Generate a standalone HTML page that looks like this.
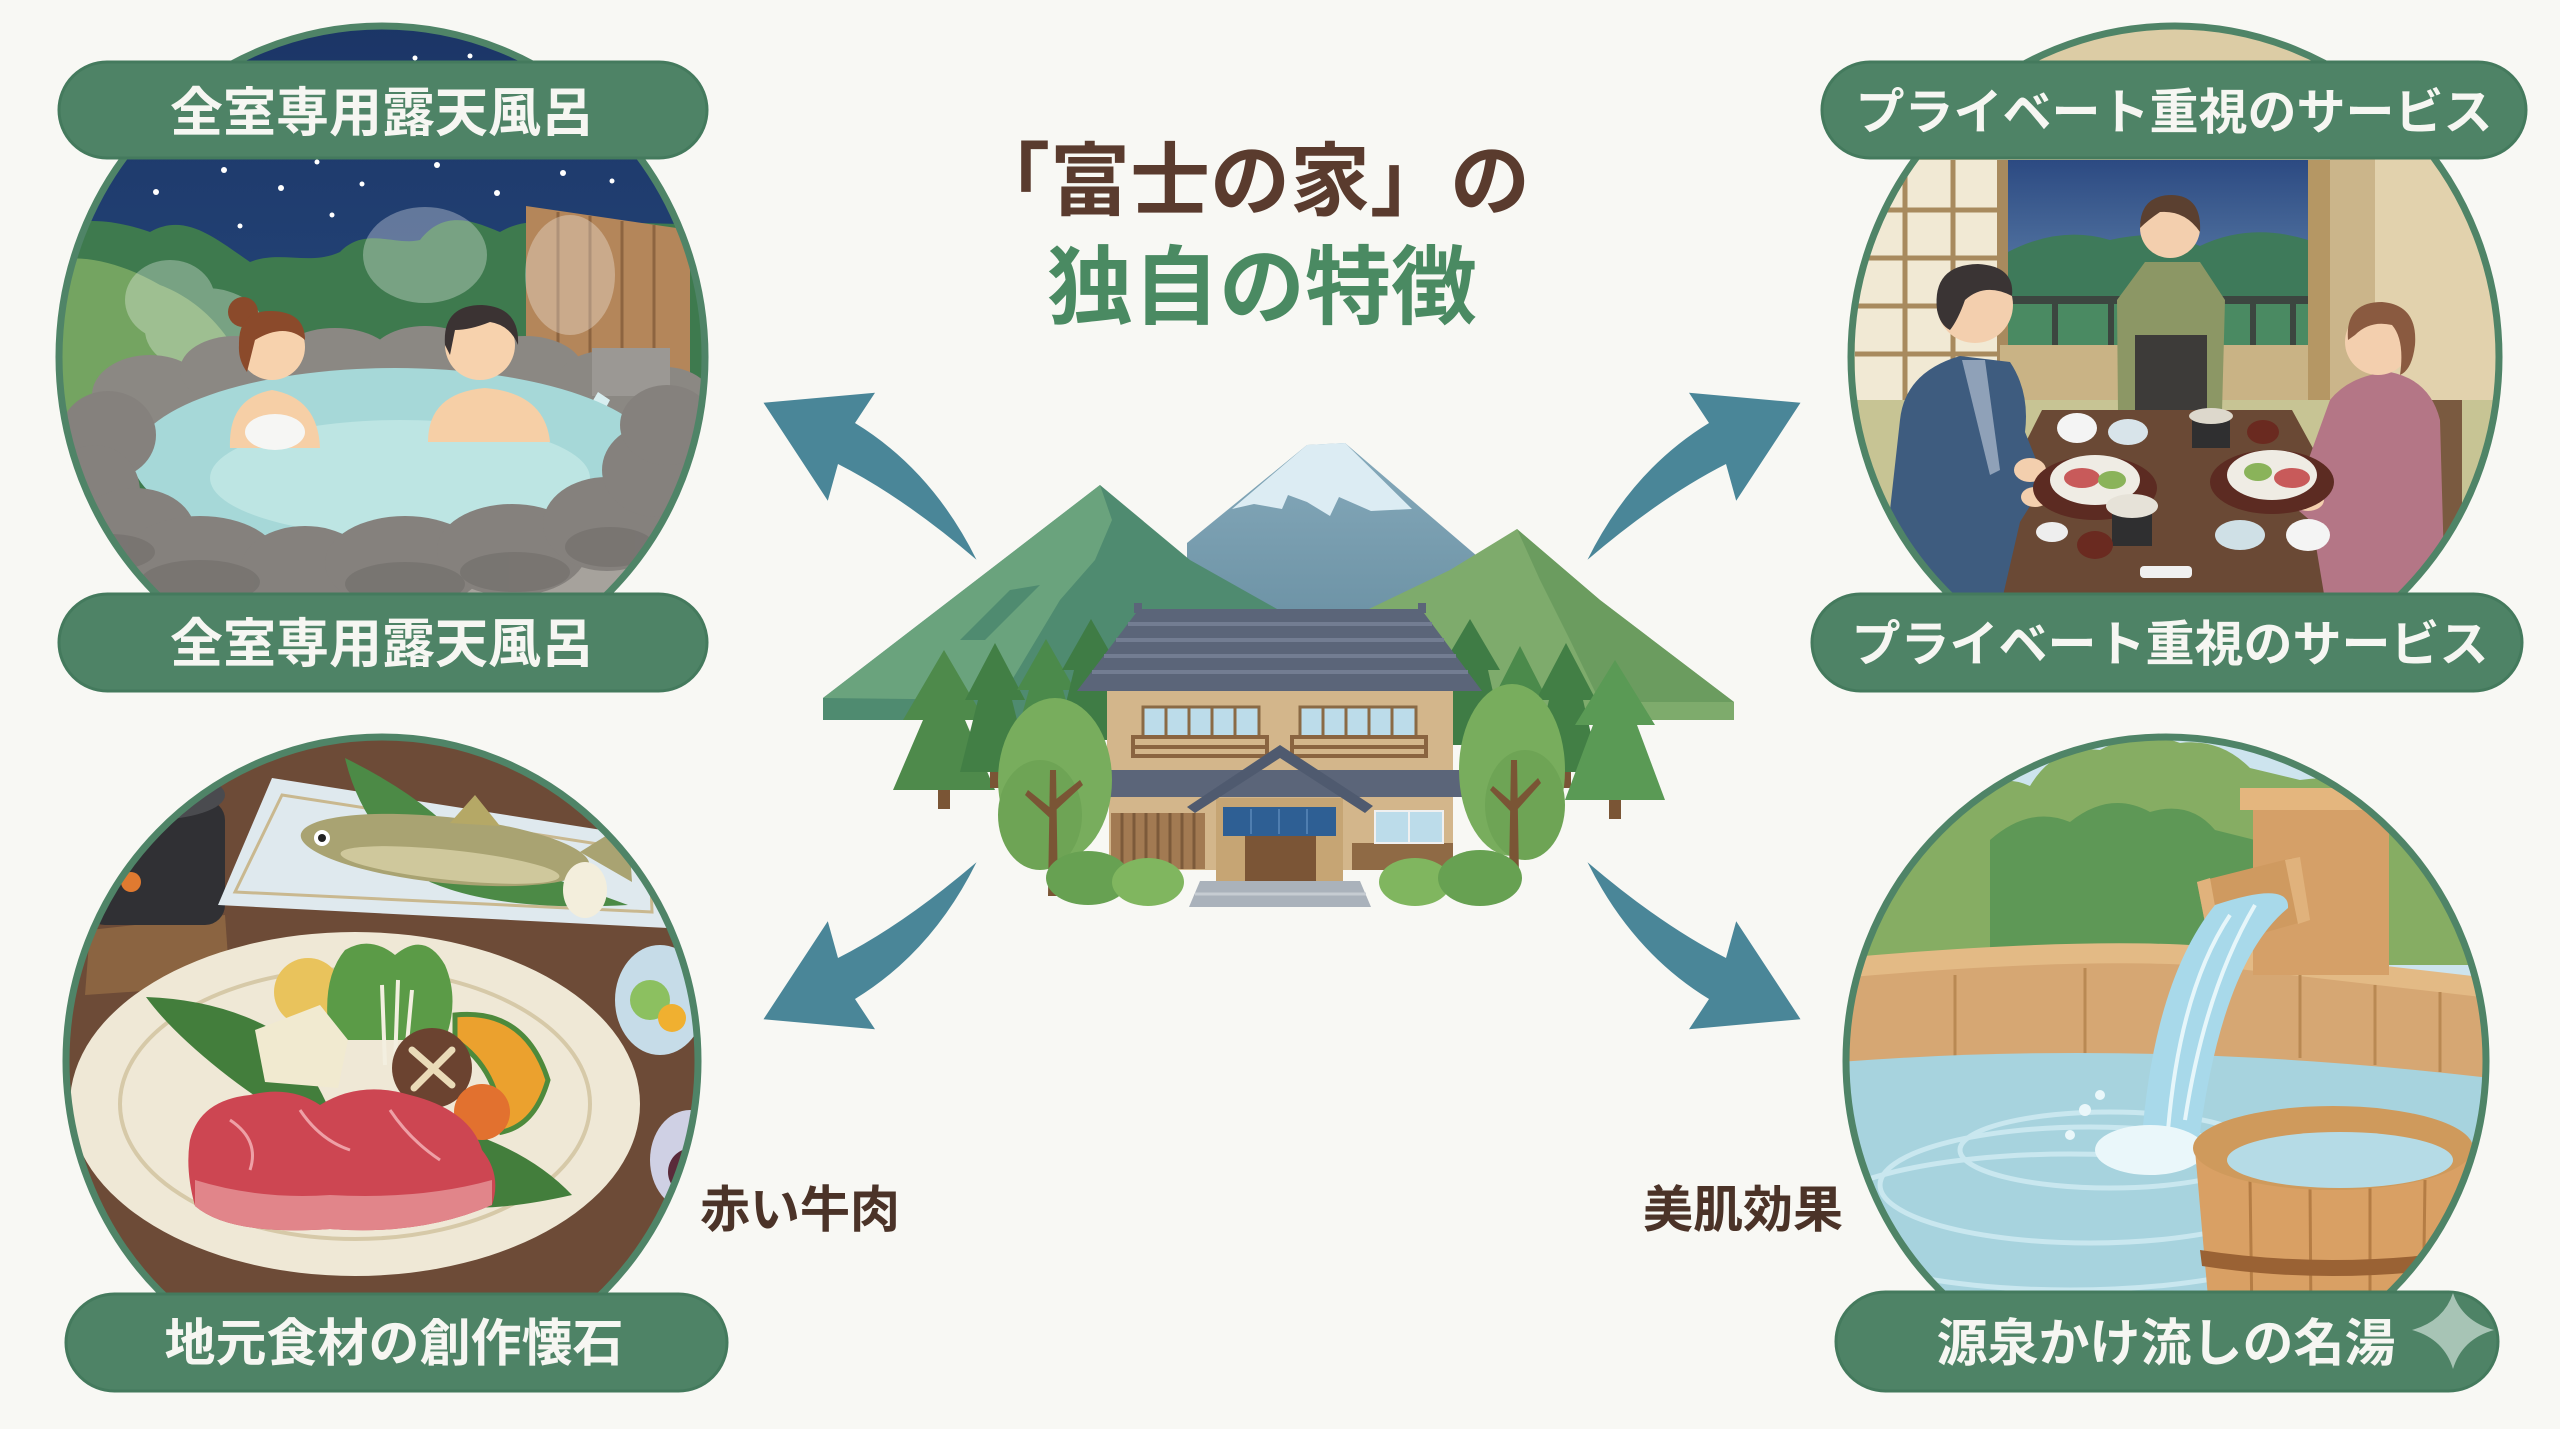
<!DOCTYPE html>
<html lang="ja">
<head>
<meta charset="utf-8">
<style>
html,body{margin:0;padding:0;background:#f8f8f4;}
body{width:2560px;height:1429px;overflow:hidden;}
svg{display:block;}
</style>
</head>
<body>
<svg width="2560" height="1429" viewBox="0 0 2560 1429" xmlns="http://www.w3.org/2000/svg" font-family="'Liberation Sans','Noto Sans CJK JP',sans-serif">
<defs>
  <clipPath id="cTL"><ellipse cx="382" cy="357" rx="323" ry="331"/></clipPath>
  <clipPath id="cTR"><ellipse cx="2175" cy="357" rx="324" ry="331"/></clipPath>
  <clipPath id="cBL"><ellipse cx="382" cy="1061" rx="316" ry="324"/></clipPath>
  <clipPath id="cBR"><ellipse cx="2166" cy="1061" rx="320" ry="324"/></clipPath>
  <linearGradient id="skyTL" x1="0" y1="0" x2="0" y2="1">
    <stop offset="0" stop-color="#1b3566"/><stop offset="1" stop-color="#2d548a"/>
  </linearGradient>
  <linearGradient id="skyTR" x1="0" y1="0" x2="0" y2="1">
    <stop offset="0" stop-color="#2c4a82"/><stop offset="1" stop-color="#6f93b8"/>
  </linearGradient>
  <linearGradient id="fuji" x1="0" y1="0" x2="0" y2="1">
    <stop offset="0" stop-color="#86aabb"/><stop offset="1" stop-color="#6a90a3"/>
  </linearGradient>
</defs>

<rect width="2560" height="1429" fill="#f8f8f4"/>

<!-- ================= TITLE ================= -->
<text x="1250" y="209" font-size="80" font-weight="700" fill="#5a3b2e" text-anchor="middle">「富士の家」の</text>
<text x="1262" y="317" font-size="86" font-weight="700" fill="#4a8a62" text-anchor="middle">独自の特徴</text>

<!-- ================= ARROWS ================= -->
<g fill="#4a8698">
  <path d="M763.5 402.8 L875 392.7 L855 423 Q932 470 976.5 559.7 Q903 497 838 464 L827.8 500.8 Z"/>
  <path d="M763.5 402.8 L875 392.7 L855 423 Q932 470 976.5 559.7 Q903 497 838 464 L827.8 500.8 Z" transform="translate(2564,0) scale(-1,1)"/>
  <path d="M763.5 402.8 L875 392.7 L855 423 Q932 470 976.5 559.7 Q903 497 838 464 L827.8 500.8 Z" transform="translate(0,1422) scale(1,-1)"/>
  <path d="M763.5 402.8 L875 392.7 L855 423 Q932 470 976.5 559.7 Q903 497 838 464 L827.8 500.8 Z" transform="translate(2564,1422) scale(-1,-1)"/>
</g>

<!-- ================= CENTER ILLUSTRATION ================= -->
<g>
  <polygon points="1187,543 1307,445 1345,443 1477,556 1477,640 1187,640" fill="url(#fuji)"/>
  <polygon points="1232,509 1307,445 1345,443 1412,509 1371,511 1339,497 1330,516 1307,502 1288,495 1282,509 1254,504" fill="#dcecf3"/>
  <polygon points="823,698 1100,485 1190,560 1277,609 1330,650 1330,720 823,720" fill="#4f8b70"/>
  <polygon points="823,698 1100,485 1112,520 1095,560 1060,600 1030,650 1000,700" fill="#6aa37d"/>
  <polygon points="960,640 1010,590 1040,585 985,640" fill="#4f8b70"/>
  <polygon points="1369,609 1450,570 1517,529 1600,600 1734,702 1734,720 1369,720" fill="#7eab6c"/>
  <polygon points="1517,529 1600,600 1734,702 1600,702 1570,640 1540,580" fill="#6b9c5f"/>
  <g fill="#4e8a4b">
    <rect x="938" y="785" width="12" height="24" fill="#7a5535"/>
    <polygon points="944,650 985,720 965,720 995,790 893,790 923,720 903,720"/>
    <rect x="990" y="770" width="10" height="18" fill="#7a5535"/>
    <polygon points="995,643 1025,700 1012,700 1030,772 960,772 978,700 965,700" fill="#427f45"/>
    <polygon points="1046,639 1075,690 1063,690 1080,750 1012,750 1029,690 1017,690" fill="#4b8a4b"/>
    <polygon points="1091,619 1120,670 1108,670 1125,740 1057,740 1074,670 1062,670" fill="#3f7c45"/>
  </g>
  <g>
    <polygon points="1470,619 1500,670 1488,670 1505,745 1435,745 1452,670 1440,670" fill="#3f7c45"/>
    <polygon points="1520,646 1545,695 1535,695 1550,765 1490,765 1505,695 1495,695" fill="#4b8a4b"/>
    <rect x="1561" y="770" width="10" height="18" fill="#7a5535"/>
    <polygon points="1566,643 1596,700 1583,700 1600,772 1532,772 1549,700 1536,700" fill="#427f45"/>
    <rect x="1609" y="795" width="12" height="24" fill="#7a5535"/>
    <polygon points="1615,660 1655,725 1637,725 1665,800 1565,800 1593,725 1575,725" fill="#5a9a55"/>
  </g>
  <polygon points="1139,609 1421,609 1482,691 1077,691" fill="#5b6579"/>
  <g stroke="#737d92" stroke-width="4">
    <line x1="1128" y1="624" x2="1432" y2="624"/>
    <line x1="1116" y1="640" x2="1444" y2="640"/>
    <line x1="1104" y1="656" x2="1456" y2="656"/>
    <line x1="1092" y1="672" x2="1468" y2="672"/>
  </g>
  <rect x="1134" y="603" width="8" height="10" fill="#5b6579"/>
  <rect x="1418" y="603" width="8" height="10" fill="#5b6579"/>
  <rect x="1107" y="691" width="346" height="81" fill="#d3b68b"/>
  <g fill="#bcdcea" stroke="#8a6a45" stroke-width="3">
    <rect x="1143" y="707" width="116" height="30"/>
    <rect x="1300" y="707" width="116" height="30"/>
  </g>
  <g stroke="#8a6a45" stroke-width="3">
    <line x1="1166" y1="707" x2="1166" y2="737"/><line x1="1189" y1="707" x2="1189" y2="737"/>
    <line x1="1212" y1="707" x2="1212" y2="737"/><line x1="1235" y1="707" x2="1235" y2="737"/>
    <line x1="1323" y1="707" x2="1323" y2="737"/><line x1="1346" y1="707" x2="1346" y2="737"/>
    <line x1="1369" y1="707" x2="1369" y2="737"/><line x1="1392" y1="707" x2="1392" y2="737"/>
  </g>
  <g fill="none" stroke="#8a6440" stroke-width="4">
    <rect x="1133" y="737" width="134" height="19"/>
    <rect x="1292" y="737" width="134" height="19"/>
    <line x1="1133" y1="747" x2="1267" y2="747"/>
    <line x1="1292" y1="747" x2="1426" y2="747"/>
  </g>
  <polygon points="1105,770 1460,770 1475,797 1100,797" fill="#5b6579"/>
  <rect x="1109" y="797" width="344" height="73" fill="#d3b68b"/>
  <rect x="1352" y="843" width="101" height="27" fill="#8f6a45"/>
  <rect x="1111" y="813" width="94" height="56" fill="#a27a52"/>
  <g stroke="#7c5a3a" stroke-width="3">
    <line x1="1122" y1="813" x2="1122" y2="869"/><line x1="1134" y1="813" x2="1134" y2="869"/>
    <line x1="1146" y1="813" x2="1146" y2="869"/><line x1="1158" y1="813" x2="1158" y2="869"/>
    <line x1="1170" y1="813" x2="1170" y2="869"/><line x1="1182" y1="813" x2="1182" y2="869"/>
    <line x1="1194" y1="813" x2="1194" y2="869"/>
  </g>
  <rect x="1216" y="798" width="127" height="84" fill="#c6a574"/>
  <rect x="1223" y="807" width="113" height="29" fill="#2e5f94"/>
  <g stroke="#4f7eb0" stroke-width="2">
    <line x1="1251" y1="809" x2="1251" y2="834"/><line x1="1279" y1="809" x2="1279" y2="834"/><line x1="1307" y1="809" x2="1307" y2="834"/>
  </g>
  <rect x="1245" y="836" width="71" height="46" fill="#7b5536"/>
  <rect x="1375" y="811" width="68" height="32" fill="#bcdcea" stroke="#f0f0f0" stroke-width="2"/>
  <line x1="1409" y1="811" x2="1409" y2="843" stroke="#f0f0f0" stroke-width="2"/>
  <polygon points="1280,745 1373,806 1365,813 1280,758 1195,813 1187,807" fill="#4f5a6f"/>
  <polygon points="1200,881 1360,881 1371,907 1189,907" fill="#aab2bb"/>
  <line x1="1195" y1="894" x2="1366" y2="894" stroke="#c6ccd2" stroke-width="3"/>
  <ellipse cx="1055" cy="780" rx="57" ry="82" fill="#78ad5d"/>
  <ellipse cx="1040" cy="815" rx="42" ry="55" fill="#6ea455"/>
  <path d="M1048 896 L1050 770 L1056 770 L1058 896 Z M1052 820 L1025 795 L1028 790 L1053 810 Z M1055 800 L1080 780 L1083 785 L1056 810 Z" fill="#7a5535"/>
  <ellipse cx="1512" cy="770" rx="53" ry="86" fill="#78ad5d"/>
  <ellipse cx="1525" cy="805" rx="40" ry="55" fill="#6ea455"/>
  <path d="M1509 876 L1511 760 L1517 760 L1519 876 Z M1514 815 L1490 790 L1493 786 L1515 805 Z M1516 800 L1538 778 L1541 783 L1517 810 Z" fill="#7a5535"/>
  <ellipse cx="1088" cy="878" rx="42" ry="27" fill="#67a152"/>
  <ellipse cx="1148" cy="882" rx="36" ry="24" fill="#80b65f"/>
  <ellipse cx="1415" cy="882" rx="36" ry="24" fill="#80b65f"/>
  <ellipse cx="1480" cy="878" rx="42" ry="28" fill="#67a152"/>
</g>

<!-- ================= TL : open-air bath ================= -->
<g clip-path="url(#cTL)">
  <rect x="50" y="20" width="670" height="690" fill="url(#skyTL)"/>
  <g fill="#ffffff">
    <circle cx="224" cy="170" r="3"/><circle cx="317" cy="162" r="2.5"/><circle cx="437" cy="165" r="3"/>
    <circle cx="563" cy="173" r="3"/><circle cx="612" cy="181" r="2.5"/><circle cx="156" cy="192" r="3"/>
    <circle cx="281" cy="188" r="3"/><circle cx="362" cy="184" r="2.5"/><circle cx="497" cy="193" r="3"/>
    <circle cx="240" cy="226" r="2.5"/><circle cx="332" cy="215" r="2.5"/><circle cx="415" cy="58" r="2.5"/><circle cx="470" cy="56" r="2.5"/>
  </g>
  <path d="M40 235 C80 212 120 222 150 232 C185 212 215 238 250 262 C280 250 310 266 340 252 C365 226 395 246 420 240 C445 208 475 222 500 232 C530 214 560 226 600 222 L720 225 L720 520 L40 520 Z" fill="#3e7a4e"/>
  <path d="M40 265 C75 250 120 262 160 285 C200 300 235 335 250 385 L250 470 L40 470 Z" fill="#7aa864" opacity="0.9"/>
  <polygon points="526,206 690,230 690,450 526,450" fill="#b4865a"/>
  <g stroke="#8d6440" stroke-width="3">
    <line x1="558" y1="212" x2="558" y2="450"/><line x1="590" y1="216" x2="590" y2="450"/>
    <line x1="622" y1="221" x2="622" y2="450"/><line x1="654" y1="225" x2="654" y2="450"/>
  </g>
  <g fill="#ffffff" opacity="0.3">
    <ellipse cx="425" cy="255" rx="62" ry="48"/><ellipse cx="570" cy="275" rx="45" ry="60"/>
    <ellipse cx="170" cy="300" rx="45" ry="40"/><ellipse cx="205" cy="330" rx="60" ry="42"/>
  </g>
  <g fill="#8b8883">
    <ellipse cx="150" cy="395" rx="58" ry="40"/><ellipse cx="235" cy="370" rx="55" ry="34"/>
    <ellipse cx="335" cy="362" rx="60" ry="34"/><ellipse cx="425" cy="358" rx="55" ry="32"/>
    <ellipse cx="525" cy="370" rx="58" ry="34"/><ellipse cx="605" cy="385" rx="50" ry="34"/>
    <ellipse cx="665" cy="405" rx="50" ry="38"/>
  </g>
  <rect x="592" y="348" width="78" height="48" fill="#9b9894"/>
  <path d="M598 392 Q 580 420 575 460 L592 460 Q 596 425 610 400 Z" fill="#d8eef0"/>
  <ellipse cx="395" cy="460" rx="262" ry="92" fill="#a6d8d8"/>
  <ellipse cx="400" cy="478" rx="190" ry="58" fill="#bde5e3"/>
  <circle cx="243" cy="312" r="15" fill="#8b4a2b"/>
  <path d="M230 448 Q228 398 272 390 Q318 398 320 448 Z" fill="#f6cfa6"/>
  <circle cx="272" cy="347" r="33" fill="#f7d2ad"/>
  <path d="M239 345 Q238 310 272 311 Q305 312 305 340 Q285 322 255 340 Q250 360 247 372 Q238 360 239 345 Z" fill="#8b4a2b"/>
  <ellipse cx="275" cy="432" rx="30" ry="18" fill="#f6f6f4"/>
  <path d="M428 442 Q428 393 485 388 Q545 393 550 442 Z" fill="#f6cfa6"/>
  <circle cx="480" cy="345" r="35" fill="#f7d2ad"/>
  <path d="M445 345 Q442 305 482 305 Q520 307 518 345 Q510 325 490 322 Q470 330 455 330 Q452 345 450 355 Z" fill="#3b3333"/>
  <rect x="40" y="548" width="690" height="160" fill="#a6a29c"/>
  <g fill="#85817d">
    <ellipse cx="108" cy="435" rx="48" ry="44"/><ellipse cx="95" cy="492" rx="45" ry="47"/>
    <ellipse cx="135" cy="532" rx="60" ry="44"/><ellipse cx="200" cy="562" rx="80" ry="46"/>
    <ellipse cx="305" cy="568" rx="64" ry="42"/><ellipse cx="405" cy="563" rx="80" ry="47"/>
    <ellipse cx="512" cy="550" rx="75" ry="46"/><ellipse cx="607" cy="524" rx="64" ry="47"/>
    <ellipse cx="657" cy="470" rx="55" ry="47"/><ellipse cx="667" cy="425" rx="47" ry="40"/>
  </g>
  <g fill="#6f6c69" opacity="0.55">
    <ellipse cx="200" cy="582" rx="60" ry="22"/><ellipse cx="405" cy="584" rx="60" ry="22"/>
    <ellipse cx="515" cy="572" rx="55" ry="20"/><ellipse cx="610" cy="547" rx="45" ry="20"/>
    <ellipse cx="110" cy="552" rx="45" ry="18"/>
  </g>
</g>
<ellipse cx="382" cy="357" rx="323" ry="331" fill="none" stroke="#4f8467" stroke-width="7"/>

<!-- ================= TR : private service ================= -->
<g clip-path="url(#cTR)">
  <rect x="1840" y="20" width="680" height="690" fill="#dccca5"/>
  <rect x="1855" y="160" width="150" height="250" fill="#f1e9d4"/>
  <g stroke="#a88a5e" stroke-width="5">
    <line x1="1905" y1="160" x2="1905" y2="410"/><line x1="1953" y1="160" x2="1953" y2="410"/>
    <line x1="1855" y1="210" x2="2005" y2="210"/><line x1="1855" y1="258" x2="2005" y2="258"/>
    <line x1="1855" y1="306" x2="2005" y2="306"/><line x1="1855" y1="354" x2="2005" y2="354"/>
  </g>
  <rect x="1997" y="160" width="12" height="250" fill="#a88a5e"/>
  <rect x="2008" y="160" width="300" height="190" fill="url(#skyTR)"/>
  <path d="M2008 252 Q2060 225 2110 240 Q2160 228 2200 246 Q2250 222 2308 240 L2308 350 L2008 350 Z" fill="#3e7a5a"/>
  <rect x="2008" y="300" width="300" height="50" fill="#4a8a62"/>
  <rect x="2008" y="296" width="300" height="8" fill="#3c4640"/>
  <g fill="#3c4640">
    <rect x="2052" y="296" width="6" height="54"/><rect x="2108" y="296" width="6" height="54"/>
    <rect x="2250" y="296" width="6" height="54"/><rect x="2290" y="296" width="6" height="54"/>
  </g>
  <rect x="2000" y="345" width="320" height="60" fill="#c9b385"/>
  <rect x="2308" y="160" width="22" height="250" fill="#b59764"/>
  <rect x="2330" y="150" width="45" height="260" fill="#cbb58a"/>
  <rect x="2375" y="20" width="140" height="400" fill="#e2d2ad"/>
  <rect x="1840" y="400" width="680" height="310" fill="#c7c494"/>
  <path d="M2145 262 L2200 262 L2225 300 L2222 412 L2118 412 L2117 300 Z" fill="#8c9765"/>
  <rect x="2135" y="335" width="72" height="77" fill="#3d3b39"/>
  <circle cx="2170" cy="228" r="30" fill="#f3cfae"/>
  <path d="M2140 228 Q2140 195 2172 195 Q2202 196 2200 232 Q2185 210 2160 212 Q2148 220 2140 228 Z" fill="#5b4030"/>
  <rect x="2430" y="400" width="32" height="160" fill="#7a5a40"/>
  <polygon points="2042,410 2292,410 2396,600 1946,600" fill="#6a4935"/>
  <path d="M1900 420 Q1905 372 1960 356 L2010 362 Q2030 392 2025 432 L2045 482 L2020 522 L2002 600 L1880 600 Z" fill="#3e5c7f"/>
  <path d="M1962 360 L1985 360 L2000 470 L1990 475 Z" fill="#8fa1b8"/>
  <circle cx="1975" cy="305" r="38" fill="#f3cfae"/>
  <path d="M1937 310 Q1932 265 1978 264 Q2015 266 2012 296 Q1985 282 1965 300 Q1958 320 1950 330 Q1940 325 1937 310 Z" fill="#3a3434"/>
  <ellipse cx="2030" cy="470" rx="16" ry="12" fill="#f3cfae"/>
  <ellipse cx="2035" cy="497" rx="14" ry="10" fill="#f3cfae"/>
  <path d="M2330 400 Q2350 375 2390 372 Q2430 380 2440 420 L2445 600 L2325 600 L2312 522 L2292 505 Z" fill="#b47686"/>
  <circle cx="2378" cy="342" r="33" fill="#f3cfae"/>
  <path d="M2348 340 Q2345 302 2382 302 Q2418 305 2415 345 Q2412 370 2400 375 Q2405 340 2392 325 Q2370 320 2355 335 Z" fill="#8a5a40"/>
  <ellipse cx="2308" cy="500" rx="16" ry="11" fill="#f3cfae"/>
  <ellipse cx="2095" cy="488" rx="62" ry="32" fill="#5c2b22"/>
  <ellipse cx="2272" cy="482" rx="62" ry="32" fill="#5c2b22"/>
  <ellipse cx="2095" cy="480" rx="45" ry="25" fill="#efece4"/>
  <ellipse cx="2272" cy="475" rx="45" ry="25" fill="#efece4"/>
  <ellipse cx="2082" cy="478" rx="18" ry="10" fill="#c85a5a"/>
  <ellipse cx="2112" cy="480" rx="14" ry="9" fill="#8ab35a"/>
  <ellipse cx="2292" cy="478" rx="18" ry="10" fill="#c85a5a"/>
  <ellipse cx="2258" cy="472" rx="14" ry="9" fill="#8ab35a"/>
  <ellipse cx="2077" cy="428" rx="20" ry="15" fill="#f4f4f4"/>
  <ellipse cx="2308" cy="535" rx="22" ry="16" fill="#f4f4f4"/>
  <ellipse cx="2128" cy="432" rx="20" ry="13" fill="#d8e4ea"/>
  <ellipse cx="2240" cy="535" rx="25" ry="15" fill="#cfe0e6"/>
  <rect x="2192" y="418" width="38" height="30" fill="#2f2f30"/>
  <ellipse cx="2211" cy="416" rx="22" ry="8" fill="#ddd8cc"/>
  <rect x="2112" y="510" width="40" height="36" fill="#2f2f30"/>
  <ellipse cx="2132" cy="506" rx="26" ry="12" fill="#e6e2d8"/>
  <ellipse cx="2095" cy="545" rx="18" ry="14" fill="#6a2a20"/>
  <ellipse cx="2263" cy="432" rx="16" ry="12" fill="#6a2a20"/>
  <rect x="2140" y="566" width="52" height="12" rx="4" fill="#f0f0f0"/>
  <ellipse cx="2052" cy="532" rx="16" ry="10" fill="#eeeeee"/>
</g>
<ellipse cx="2175" cy="357" rx="324" ry="331" fill="none" stroke="#4f8467" stroke-width="7"/>

<!-- ================= BL : kaiseki ================= -->
<g clip-path="url(#cBL)">
  <rect x="50" y="720" width="680" height="700" fill="#6d4b37"/>
  <polygon points="90,930 225,915 230,985 85,995" fill="#8b6441"/>
  <rect x="85" y="800" width="140" height="125" rx="20" fill="#303034"/>
  <ellipse cx="150" cy="795" rx="75" ry="25" fill="#4a4b4f"/>
  <circle cx="131" cy="882" r="10" fill="#e07a30"/>
  <polygon points="272,778 665,840 668,928 218,905" fill="#dfe9ee"/>
  <polygon points="282,795 650,852 652,912 235,892" fill="none" stroke="#c9b88f" stroke-width="3"/>
  <path d="M345 758 Q430 800 470 850 Q560 880 628 905 Q500 912 430 882 Q362 832 345 758 Z" fill="#4c8a46"/>
  <ellipse cx="445" cy="850" rx="145" ry="33" fill="#a9a372" transform="rotate(6 445 850)"/>
  <ellipse cx="450" cy="865" rx="110" ry="15" fill="#cfc89c" transform="rotate(6 450 865)"/>
  <polygon points="580,852 628,822 632,882" fill="#a9a372"/>
  <polygon points="450,823 475,795 500,826" fill="#b5a866"/>
  <circle cx="322" cy="838" r="8" fill="#ffffff"/><circle cx="322" cy="838" r="4" fill="#222"/>
  <ellipse cx="585" cy="890" rx="22" ry="28" fill="#f3eedc"/>
  <ellipse cx="355" cy="1104" rx="285" ry="172" fill="#efe8d6"/>
  <ellipse cx="355" cy="1104" rx="235" ry="135" fill="none" stroke="#d6c9a8" stroke-width="4"/>
  <path d="M146 997 Q230 1000 290 1040 Q330 1100 345 1150 Q270 1110 220 1070 Q170 1030 146 997 Z" fill="#437e3c"/>
  <path d="M420 1120 Q520 1140 572 1195 Q480 1216 430 1202 Z" fill="#437e3c"/>
  <circle cx="308" cy="992" r="34" fill="#e9c35c"/>
  <path d="M330 1040 Q320 980 345 950 Q370 935 395 955 Q425 930 445 965 Q460 1000 445 1040 Z" fill="#5b9b47"/>
  <g stroke="#f3efe0" stroke-width="4">
    <line x1="385" y1="1065" x2="382" y2="985"/><line x1="395" y1="1065" x2="398" y2="980"/><line x1="405" y1="1065" x2="412" y2="990"/>
  </g>
  <polygon points="255,1030 320,1005 348,1040 338,1088 265,1082" fill="#f1ead0"/>
  <path d="M455 1015 Q525 1008 548 1080 Q535 1125 502 1132 Q500 1070 455 1040 Z" fill="#eba12e" stroke="#4d8a3c" stroke-width="5"/>
  <circle cx="432" cy="1068" r="40" fill="#6b4330"/>
  <path d="M412 1050 L452 1085 M452 1050 L414 1088" stroke="#eadbb8" stroke-width="7" stroke-linecap="round"/>
  <circle cx="482" cy="1112" r="28" fill="#e2712f"/>
  <path d="M190 1140 Q200 1100 250 1095 Q290 1085 320 1105 Q360 1080 410 1095 Q470 1110 482 1150 Q502 1175 492 1205 Q420 1236 330 1229 Q230 1236 195 1206 Q185 1170 190 1140 Z" fill="#cd4652"/>
  <path d="M195 1180 Q260 1200 330 1195 Q420 1200 492 1180 L492 1205 Q420 1236 330 1229 Q230 1236 195 1206 Z" fill="#e1858a"/>
  <g stroke="#eea0a6" stroke-width="3" fill="none">
    <path d="M230 1120 Q260 1140 250 1170"/><path d="M300 1110 Q320 1140 350 1150"/><path d="M390 1110 Q410 1140 440 1160"/>
  </g>
  <ellipse cx="660" cy="1000" rx="45" ry="55" fill="#c6dce8"/>
  <circle cx="650" cy="1000" r="20" fill="#8cc060"/><circle cx="672" cy="1018" r="14" fill="#f0b030"/>
  <ellipse cx="690" cy="1160" rx="40" ry="50" fill="#cfd0e4"/>
  <ellipse cx="692" cy="1172" rx="24" ry="24" fill="#5a2a3a"/>
</g>
<ellipse cx="382" cy="1061" rx="316" ry="324" fill="none" stroke="#4f8467" stroke-width="7"/>

<!-- ================= BR : hot spring ================= -->
<g clip-path="url(#cBR)">
  <rect x="1830" y="720" width="680" height="700" fill="#cde4ee"/>
  <path d="M1840 965 L1840 850 Q1870 828 1900 842 Q1925 798 1960 812 Q1990 768 2030 786 Q2055 744 2100 750 Q2140 728 2180 743 Q2220 738 2250 768 L2300 780 Q2350 772 2400 800 L2500 810 L2500 965 Z" fill="#86ad63"/>
  <path d="M1990 965 L1990 840 Q2030 805 2070 822 Q2110 790 2150 812 Q2190 800 2215 830 L2255 840 L2255 965 Z" fill="#5e9856"/>
  <path d="M1840 965 Q2100 942 2230 955 L2490 985 L2490 1085 Q2200 1050 1840 1072 Z" fill="#d6a773"/>
  <path d="M1840 958 Q2100 935 2230 948 L2490 978 L2490 998 L2230 968 Q2100 955 1840 978 Z" fill="#e3ba85"/>
  <g stroke="#b98953" stroke-width="3">
    <line x1="1955" y1="975" x2="1955" y2="1062"/><line x1="2085" y1="968" x2="2085" y2="1058"/>
    <line x1="2300" y1="975" x2="2300" y2="1058"/><line x1="2375" y1="985" x2="2375" y2="1065"/><line x1="2440" y1="992" x2="2440" y2="1072"/>
  </g>
  <path d="M1840 1062 Q2150 1038 2490 1078 L2500 1410 L1840 1410 Z" fill="#a7d3de"/>
  <g fill="none" stroke="#c9e7ef" stroke-width="5">
    <ellipse cx="2110" cy="1150" rx="150" ry="38"/><ellipse cx="2090" cy="1185" rx="210" ry="58"/><ellipse cx="2070" cy="1222" rx="260" ry="68"/>
  </g>
  <rect x="2253" y="800" width="136" height="175" fill="#d5a068"/>
  <rect x="2240" y="788" width="152" height="22" fill="#e4b67e"/>
  <polygon points="2197,882 2292,858 2302,922 2210,948" fill="#cf9a60"/>
  <polygon points="2197,882 2210,878 2222,945 2210,948" fill="#e0b27c"/>
  <polygon points="2285,860 2300,857 2310,920 2298,924" fill="#e0b27c"/>
  <path d="M2215 905 Q2290 880 2288 908 Q2218 965 2196 1165 L2140 1165 Q2150 985 2215 905 Z" fill="#a8d9ea"/>
  <g stroke="#e6f6fa" stroke-width="4" fill="none">
    <path d="M2230 915 Q2180 990 2168 1130"/><path d="M2255 905 Q2205 990 2185 1120"/>
  </g>
  <ellipse cx="2150" cy="1150" rx="55" ry="25" fill="#eaf7fa"/>
  <circle cx="2085" cy="1110" r="6" fill="#eaf7fa"/><circle cx="2100" cy="1095" r="5" fill="#eaf7fa"/><circle cx="2070" cy="1135" r="5" fill="#eaf7fa"/>
  <path d="M2195 1150 L2472 1145 L2462 1320 L2210 1320 Z" fill="#d9a064"/>
  <g stroke="#b57d45" stroke-width="3">
    <line x1="2250" y1="1180" x2="2252" y2="1320"/><line x1="2310" y1="1185" x2="2311" y2="1320"/>
    <line x1="2370" y1="1185" x2="2370" y2="1320"/><line x1="2425" y1="1180" x2="2423" y2="1320"/>
  </g>
  <path d="M2200 1250 Q2330 1270 2468 1250 L2467 1266 Q2330 1286 2202 1266 Z" fill="#9a6234"/>
  <ellipse cx="2333" cy="1148" rx="140" ry="42" fill="#cf9a5c"/>
  <ellipse cx="2340" cy="1160" rx="113" ry="28" fill="#b5dbe6"/>
</g>
<ellipse cx="2166" cy="1061" rx="320" ry="324" fill="none" stroke="#4f8467" stroke-width="7"/>

<!-- ================= PILLS ================= -->
<g fill="#4e8366" stroke="#447a5d" stroke-width="3">
  <rect x="59" y="62" width="648" height="96" rx="48"/>
  <rect x="59" y="594" width="648" height="97" rx="48.5"/>
  <rect x="1822" y="62" width="704" height="96" rx="48"/>
  <rect x="1812" y="594" width="710" height="97" rx="48.5"/>
  <rect x="66" y="1294" width="661" height="97" rx="48.5"/>
  <rect x="1836" y="1292" width="662" height="99" rx="49.5"/>
</g>
<path d="M2453 1293 Q2462 1321 2494 1330 Q2462 1339 2453 1369 Q2444 1339 2412 1330 Q2444 1321 2453 1293 Z" fill="#a7c4b5"/>

<g fill="#f6f6f2" font-weight="700" text-anchor="middle">
  <text x="382" y="131" font-size="53">全室専用露天風呂</text>
  <text x="382" y="662" font-size="53">全室専用露天風呂</text>
  <text x="2174" y="129" font-size="49">プライベート重視のサービス</text>
  <text x="2170" y="661" font-size="49">プライベート重視のサービス</text>
  <text x="394" y="1361" font-size="51">地元食材の創作懐石</text>
  <text x="2166" y="1361" font-size="51">源泉かけ流しの名湯</text>
</g>

<text x="700" y="1227" font-size="50" font-weight="700" fill="#4b3328">赤い牛肉</text>
<text x="1643" y="1227" font-size="50" font-weight="700" fill="#4b3328">美肌効果</text>
</svg>
</body>
</html>
